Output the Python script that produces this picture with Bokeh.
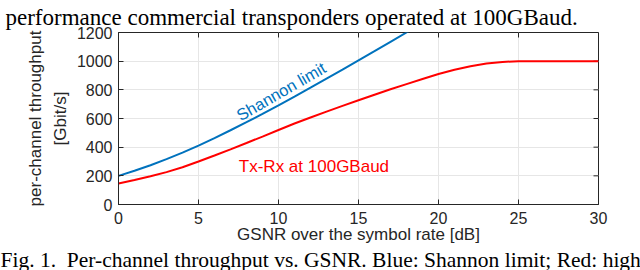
from bokeh.plotting import figure
from bokeh.models import Range1d, Title, Label
from bokeh.embed import file_html
from bokeh.resources import INLINE

# ---- data ----
gsnr_shannon = [0, 1, 2, 3, 4, 5, 6, 7, 8, 9, 10, 11, 12, 13, 14, 15, 16, 17, 18, 19]
shannon_limit = [200, 235, 274, 317, 362, 411, 463, 518, 574, 632, 692, 753, 815, 878,
                 941, 1006, 1070, 1135, 1200, 1266]

gsnr_txrx = [0, 1, 2, 3, 4, 5, 6, 7, 8, 9, 10, 11, 12, 13, 14, 15, 16, 17, 18, 19, 20,
             21, 22, 23, 24, 25, 26, 27, 28, 29, 30]
txrx_100gbaud = [147, 171, 197, 226, 260, 300, 342, 385, 429, 474, 520, 565, 607, 648,
                 688, 727, 766, 804, 840, 876, 910, 940, 964, 983, 995, 1000, 1000, 1000,
                 1000, 1000, 1000]

x_ticks = [0, 5, 10, 15, 20, 25, 30]
y_ticks = [0, 200, 400, 600, 800, 1000, 1200]

x_label = "GSNR over the symbol rate [dB]"
y_label_1 = "per-channel throughput"
y_label_2 = "[Gbit/s]"
shannon_text = "Shannon limit"
txrx_text = "Tx-Rx at 100GBaud"
caption_top = "performance commercial transponders operated at 100GBaud."
caption_bottom = "Fig. 1.\u00a0 Per-channel throughput vs. GSNR. Blue: Shannon limit; Red: high"

AX = "#262626"
SANS = "Liberation Sans"
SERIF = "Liberation Serif"
BLUE = "#0072BD"
RED = "#FF0000"

p = figure(width=640, height=270, output_backend="svg", toolbar_location=None,
           x_range=Range1d(0, 30), y_range=Range1d(0, 1200),
           min_border_left=118, min_border_right=42, min_border_top=31,
           min_border_bottom=64)
p.background_fill_color = "white"
p.border_fill_color = "white"
p.outline_line_color = AX
p.outline_line_width = 1

for ax, ticks in ((p.xaxis[0], x_ticks), (p.yaxis[0], y_ticks)):
    ax.ticker = ticks
    ax.major_tick_in = 5
    ax.major_tick_out = 0
    ax.minor_tick_line_color = None
    ax.axis_line_color = AX
    ax.major_tick_line_color = AX
    ax.major_label_text_font = SANS
    ax.major_label_text_font_size = "16px"
    ax.major_label_text_color = AX
    ax.axis_label_text_font = SANS
    ax.axis_label_text_font_size = "17px"
    ax.axis_label_text_font_style = "normal"
    ax.axis_label_text_color = AX

p.xaxis[0].major_label_standoff = 7
p.xaxis[0].axis_label = x_label
p.xaxis[0].axis_label_standoff = -2
p.yaxis[0].major_label_standoff = 6
p.yaxis[0].axis_label = y_label_2
p.yaxis[0].axis_label_standoff = 4

# first line of the y title, outside the axis title
p.add_layout(Title(text=y_label_1, align="center", text_font=SANS, text_font_size="17px",
                   text_font_style="normal", text_color=AX, standoff=6), "left")

# inward ticks on the top and right edges of the box
p.ray(x=x_ticks, y=max(y_ticks), length=5, length_units="screen", angle=-90,
      angle_units="deg", line_color=AX, line_width=1)
p.ray(x=max(x_ticks), y=y_ticks, length=5, length_units="screen", angle=180,
      angle_units="deg", line_color=AX, line_width=1)

p.xgrid.ticker = x_ticks
p.ygrid.ticker = y_ticks
p.grid.grid_line_color = "#e6e6e6"
p.grid.grid_line_width = 1

p.line(gsnr_shannon, shannon_limit, line_color=BLUE, line_width=2)
p.line(gsnr_txrx, txrx_100gbaud, line_color=RED, line_width=2)

p.add_layout(Label(x=7.45, y=615, text=shannon_text, angle=30, angle_units="deg",
                   text_font=SANS, text_font_size="16.5px", text_color=BLUE,
                   text_baseline="alphabetic", text_align="left"))
p.add_layout(Label(x=7.52, y=263, text=txrx_text,
                   text_font=SANS, text_font_size="17px", text_color=RED,
                   text_baseline="alphabetic", text_align="left"))

# surrounding paper text
p.title.text = caption_top
p.title.text_font = SERIF
p.title.text_font_size = "23px"
p.title.text_font_style = "normal"
p.title.text_color = "black"
p.title.align = "left"
p.title.offset = -113
p.title.standoff = 5

p.add_layout(Title(text=caption_bottom, align="left", offset=-118, text_font=SERIF,
                   text_font_size="21.5px", text_font_style="normal", text_color="black",
                   standoff=-2), "below")

open("out.html", "w").write(file_html(p, INLINE))
